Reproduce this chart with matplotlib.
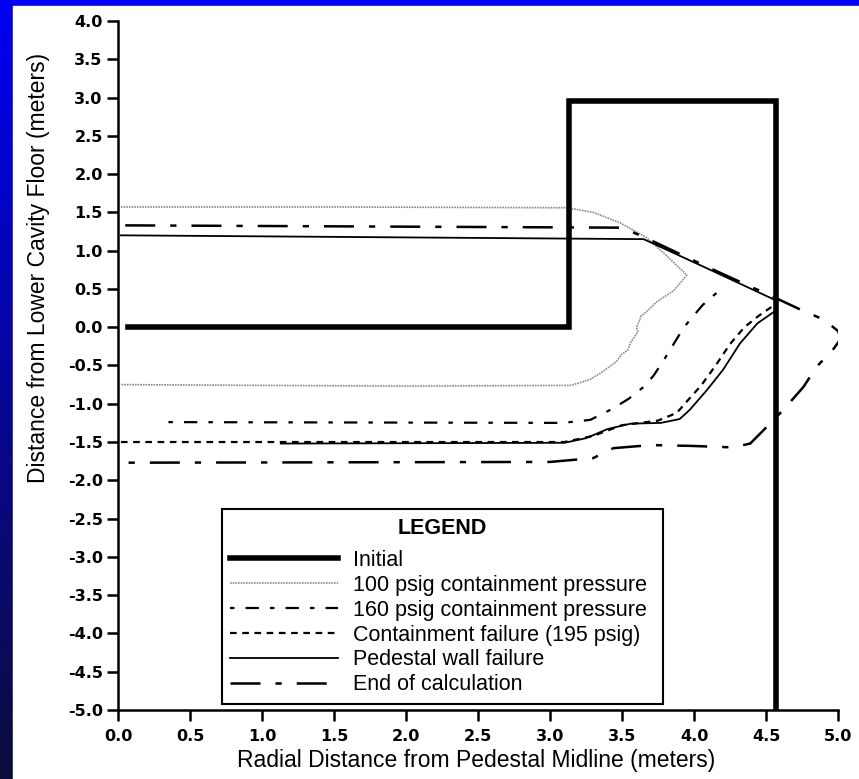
import numpy as np
import matplotlib.pyplot as plt
from matplotlib.patches import Rectangle

# ---- data (meters) ----
init_x = [0.07, 3.13, 3.13, 4.57, 4.57]
init_y = [0.0, 0.0, 2.95, 2.95, -5.0]

p100_x = [0.02, 1.5, 3.12, 3.3, 3.49, 3.67, 3.8, 3.95, 3.86, 3.74, 3.68, 3.63, 3.62, 3.6,
          3.61, 3.56, 3.54, 3.5, 3.46, 3.41, 3.35, 3.28, 3.2, 3.14, 2.0, 0.02]
p100_y = [1.57, 1.57, 1.56, 1.5, 1.36, 1.17, 0.95, 0.68, 0.48, 0.33, 0.22, 0.14, 0.08, 0.0,
          -0.06, -0.2, -0.3, -0.35, -0.45, -0.52, -0.6, -0.68, -0.73, -0.76, -0.77, -0.75]

p160_x = [0.35, 3.09, 3.28, 3.44, 3.55, 3.65, 3.72, 3.79, 3.93, 4.06, 4.2]
p160_y = [-1.24, -1.25, -1.21, -1.06, -0.93, -0.78, -0.63, -0.43, 0.0, 0.29, 0.52]

cf_x = [0.02, 3.1, 3.3, 3.5, 3.75, 3.88, 3.95, 4.05, 4.15, 4.25, 4.35, 4.45, 4.55, 4.57]
cf_y = [-1.5, -1.5, -1.42, -1.28, -1.22, -1.12, -0.97, -0.76, -0.5, -0.22, 0.0, 0.15, 0.28, 0.35]

pw_x = [0.02, 3.65, 4.1, 4.58, 4.57, 4.44, 4.32, 4.2, 4.09, 3.97, 3.9, 3.77, 3.56, 3.4,
        3.25, 3.1, 1.13]
pw_y = [1.2, 1.15, 0.76, 0.34, 0.22, 0.05, -0.21, -0.56, -0.82, -1.08, -1.2, -1.25, -1.26,
        -1.33, -1.45, -1.51, -1.52]

eoc_x = [0.05, 3.5, 3.65, 4.1, 4.58, 4.75, 4.9, 5.0, 5.02, 4.97, 4.85, 4.76, 4.62, 4.48,
         4.39, 4.27, 3.97, 3.7, 3.44, 3.3, 3.0, 0.02]
eoc_y = [1.33, 1.3, 1.18, 0.78, 0.37, 0.22, 0.1, -0.05, -0.15, -0.28, -0.52, -0.78, -1.08,
         -1.35, -1.52, -1.57, -1.55, -1.54, -1.58, -1.71, -1.76, -1.77]

labels = ['Initial', '100 psig containment pressure', '160 psig containment pressure',
          'Containment failure (195 psig)', 'Pedestal wall failure', 'End of calculation']

fig = plt.figure(figsize=(8.59, 7.79), dpi=100)

# blue slide background + white panel
bg = fig.add_axes([0, 0, 1, 1], zorder=-10)
top = np.array([0, 0, 245]) / 255
bot = np.array([12, 12, 60]) / 255
t = np.linspace(0, 1, 256)[:, None]
grad = (1 - t) * top + t * bot
bg.imshow(grad[:, None, :], aspect='auto', extent=[0, 1, 0, 1])
bg.add_patch(Rectangle((13 / 859, 0), 1, 1 - 6 / 779, color='white'))
bg.set_xlim(0, 1)
bg.set_ylim(0, 1)
bg.axis('off')

ax = fig.add_axes([0.1374, 0.0886, 0.8382, 0.8845])
ax.set_facecolor('none')

ax.plot(init_x, init_y, color='black', lw=4, solid_joinstyle='miter', label=labels[0], zorder=4)
ax.plot(p100_x, p100_y, color='#8a8a8a', lw=1.2, ls=(0, (1, 0.6)), label=labels[1])
ax.plot(p160_x, p160_y, color='black', lw=1.6, ls=(0, (2, 5, 6, 5)), label=labels[2])
ax.plot(cf_x, cf_y, color='black', lw=1.6, ls=(0, (3, 2.5)), label=labels[3])
ax.plot(pw_x, pw_y, color='black', lw=1.3, label=labels[4])
ax.plot(eoc_x, eoc_y, color='black', lw=1.8, ls=(0, (12, 6, 2.5, 6)), label=labels[5])

ax.set_xlim(0, 5)
ax.set_ylim(-5, 4)
ax.set_xticks(np.arange(0, 5.01, 0.5))
ax.set_yticks(np.arange(-5, 4.01, 0.5))
ax.set_xticklabels(['%.1f' % v for v in np.arange(0, 5.01, 0.5)])
ax.set_yticklabels(['%.1f' % v for v in np.arange(-5, 4.01, 0.5)])
for s in ['top', 'right']:
    ax.spines[s].set_visible(False)
for s in ['left', 'bottom']:
    ax.spines[s].set_linewidth(1.8)
ax.tick_params(axis='both', direction='out', length=8, width=1.8)
ax.tick_params(axis='y', pad=3)
ax.tick_params(axis='x', pad=6)
for lab in ax.get_xticklabels() + ax.get_yticklabels():
    lab.set_fontfamily('DejaVu Sans')
    lab.set_fontweight('bold')
    lab.set_fontsize(11.5)

ax.set_xlabel('Radial Distance from Pedestal Midline (meters)', fontsize=16.5,
              family='Liberation Sans')
ax.set_ylabel('Distance from Lower Cavity Floor (meters)', fontsize=16.5,
              family='Liberation Sans')
ax.xaxis.set_label_coords(0.497, -0.056)
ax.yaxis.set_label_coords(-0.094, 0.641)

leg = ax.legend(loc='lower left', bbox_to_anchor=(0.144, 0.0087, 0.613, 0.28),
                mode='expand', borderaxespad=0, fancybox=False, framealpha=1,
                edgecolor='black', title='LEGEND',
                prop={'family': 'Liberation Sans', 'size': 15.5},
                title_fontproperties={'family': 'Liberation Sans', 'size': 15.5,
                                      'weight': 'bold'},
                handlelength=5.0, handletextpad=0.7, labelspacing=0.18,
                borderpad=0.4)
leg.get_frame().set_linewidth(1.5)
leg._legend_box.sep = 8  # extra room under the title, as in the reference
leg.set_zorder(6)

fig.savefig('out.png', dpi=100)
